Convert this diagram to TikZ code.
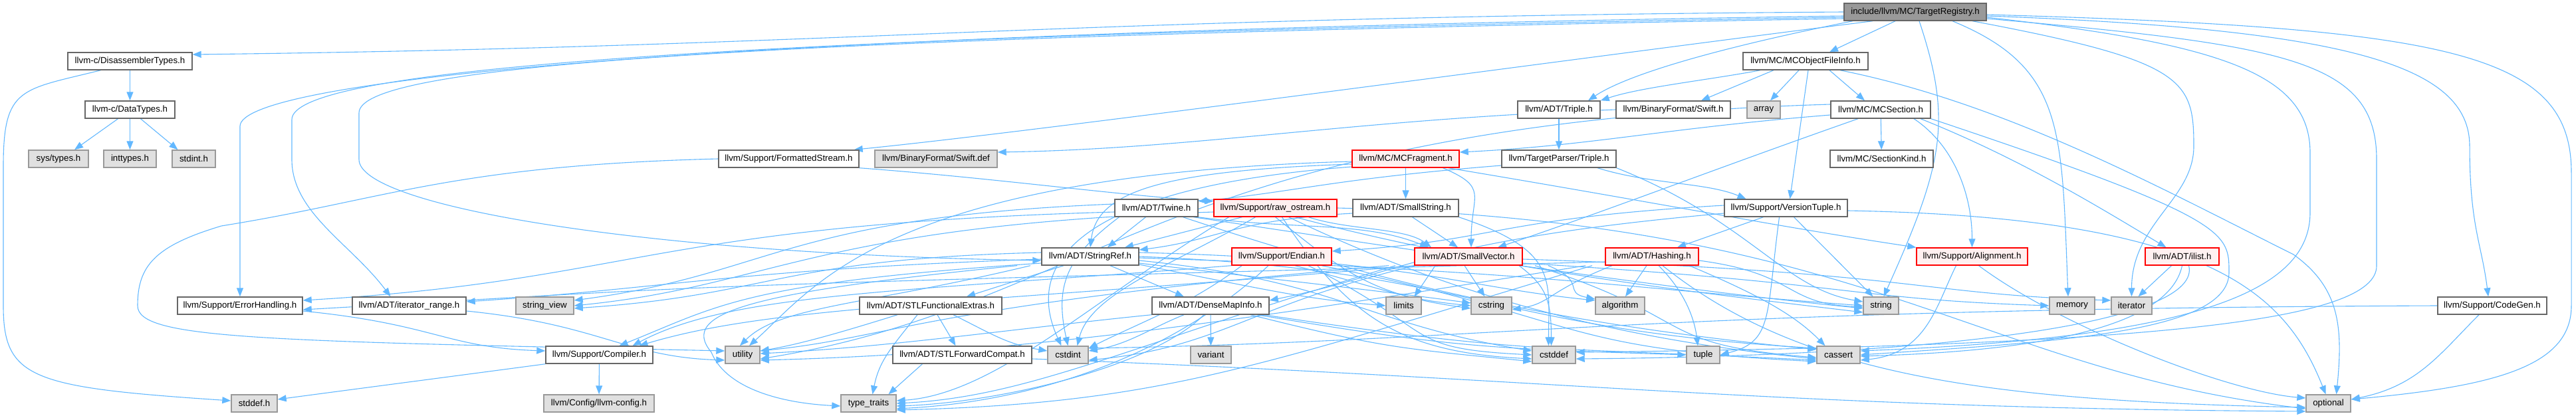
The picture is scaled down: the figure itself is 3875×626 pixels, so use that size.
\documentclass[tikz,border=0pt]{standalone}
\usepackage{fontspec}
\setmainfont{Liberation Sans}
\usetikzlibrary{arrows.meta}
\definecolor{edgec}{HTML}{63B8FF}
\definecolor{bordn}{HTML}{666666}
\definecolor{bordg}{HTML}{999999}
\definecolor{fillg}{HTML}{E0E0E0}
\definecolor{fillr}{HTML}{FFF0F0}
\definecolor{bordr}{HTML}{FF0000}
\definecolor{fillroot}{HTML}{999999}
\pgfdeclarelayer{bg}
\pgfsetlayers{bg,main}
\tikzset{
  base/.style={rectangle, inner sep=0pt, minimum height=13pt, line width=0.7pt, font=\fontsize{6.65pt}{8pt}\selectfont, text=black},
  nb/.style={base, draw=bordn, fill=white},
  gb/.style={base, draw=bordg, fill=fillg},
  rb/.style={base, draw=bordr, fill=fillr},
  rootb/.style={base, draw=bordn, fill=fillroot},
  e/.style={draw=edgec, line width=0.55pt, -{Triangle[length=6.5pt,width=5pt]}}
}
\begin{document}
\begin{tikzpicture}[x=0.5pt,y=-0.5pt]
\useasboundingbox (0,0) rectangle (3875,626);
% row 0
\node[rootb, minimum width=107pt] (root) at (2881,18) {include/llvm/MC/TargetRegistry.h};
% row 1
\node[nb, minimum width=93.5pt] (dis) at (195.5,92) {llvm-c/DisassemblerTypes.h};
\node[nb, minimum width=94pt] (mcofi) at (2716,92) {llvm/MC/MCObjectFileInfo.h};
% row 2
\node[nb, minimum width=67.5pt] (datatypes) at (195.5,165) {llvm-c/DataTypes.h};
\node[nb, minimum width=62pt] (adttriple) at (2345,165) {llvm/ADT/Triple.h};
\node[nb, minimum width=86pt] (swifth) at (2517,165) {llvm/BinaryFormat/Swift.h};
\node[gb, minimum width=25pt] (array) at (2653,165) {array};
\node[nb, minimum width=75pt] (mcsection) at (2829,165) {llvm/MC/MCSection.h};
% row 3
\node[gb, minimum width=45pt] (systypes) at (88,239) {sys/types.h};
\node[gb, minimum width=39.5pt] (inttypes) at (195.5,239) {inttypes.h};
\node[gb, minimum width=32.5pt] (stdint) at (291.5,239) {stdint.h};
\node[nb, minimum width=105.5pt] (fstream) at (1186.5,239) {llvm/Support/FormattedStream.h};
\node[gb, minimum width=92pt] (swiftdef) at (1408,239) {llvm/BinaryFormat/Swift.def};
\node[rb, minimum width=80.5pt] (mcfrag) at (2114.5,239) {llvm/MC/MCFragment.h};
\node[nb, minimum width=86pt] (tptriple) at (2345,239) {llvm/TargetParser/Triple.h};
\node[nb, minimum width=77.5pt] (sectionkind) at (2830.5,239) {llvm/MC/SectionKind.h};
% row 4
\node[nb, minimum width=62.5pt] (twine) at (1739.5,313) {llvm/ADT/Twine.h};
\node[rb, minimum width=92.5pt] (rawos) at (1918.5,313) {llvm/Support/raw\_ostream.h};
\node[nb, minimum width=79.5pt] (smallstring) at (2114.5,313) {llvm/ADT/SmallString.h};
\node[nb, minimum width=92.5pt] (versiontuple) at (2686.5,313) {llvm/Support/VersionTuple.h};
% row 5
\node[nb, minimum width=73pt] (stringref) at (1640,386) {llvm/ADT/StringRef.h};
\node[rb, minimum width=75pt] (endian) at (1928,386) {llvm/Support/Endian.h};
\node[rb, minimum width=81pt] (smallvector) at (2209,386) {llvm/ADT/SmallVector.h};
\node[rb, minimum width=70pt] (hashing) at (2485,386) {llvm/ADT/Hashing.h};
\node[rb, minimum width=83.5pt] (alignment) at (2966.5,386) {llvm/Support/Alignment.h};
\node[rb, minimum width=55.5pt] (ilist) at (3282.5,386) {llvm/ADT/ilist.h};
% row 6
\node[nb, minimum width=94pt] (errh) at (361,460) {llvm/Support/ErrorHandling.h};
\node[nb, minimum width=85.5pt] (itrange) at (615.5,460) {llvm/ADT/iterator\_range.h};
\node[gb, minimum width=43.5pt] (stringview) at (819.5,460) {string\_view};
\node[nb, minimum width=107pt] (stlfe) at (1400,460) {llvm/ADT/STLFunctionalExtras.h};
\node[nb, minimum width=88pt] (densemap) at (1821,460) {llvm/ADT/DenseMapInfo.h};
\node[gb, minimum width=26.5pt] (limits) at (2111.5,460) {limits};
\node[gb, minimum width=30.5pt] (cstring) at (2243.5,460) {cstring};
\node[gb, minimum width=37pt] (algorithm) at (2437,460) {algorithm};
\node[gb, minimum width=26.5pt] (string) at (2829.5,460) {string};
\node[gb, minimum width=34pt] (memory) at (3117,460) {memory};
\node[gb, minimum width=30.5pt] (iterator) at (3206.5,460) {iterator};
\node[nb, minimum width=82pt] (codegen) at (3749,460) {llvm/Support/CodeGen.h};
% row 7
\node[nb, minimum width=80.5pt] (compiler) at (901.5,534) {llvm/Support/Compiler.h};
\node[gb, minimum width=26pt] (utility) at (1117,534) {utility};
\node[nb, minimum width=104.5pt] (stlfc) at (1447.5,534) {llvm/ADT/STLForwardCompat.h};
\node[gb, minimum width=30.5pt] (cstdint) at (1606.5,534) {cstdint};
\node[gb, minimum width=30.5pt] (variant) at (1821.5,534) {variant};
\node[gb, minimum width=32.5pt] (cstddef) at (2337.5,534) {cstddef};
\node[gb, minimum width=25pt] (tuple) at (2562,534) {tuple};
\node[gb, minimum width=32.5pt] (cassert) at (2765.5,534) {cassert};
% row 8
\node[gb, minimum width=34.5pt] (stddef) at (382.5,607) {stddef.h};
\node[gb, minimum width=83pt] (llvmconfig) at (901,607) {llvm/Config/llvm-config.h};
\node[gb, minimum width=41.5pt] (typetraits) at (1306.5,607) {type\_traits};
\node[gb, minimum width=33.5pt] (optional) at (3502.5,607) {optional};

\begin{pgfonlayer}{bg}
% root
\draw[e] (root.west) .. controls +(-1200,8) and +(1000,-12) .. ([yshift=5pt]dis.east);
\draw[e] ([yshift=-3pt]root.west) .. controls +(-1700,25) and +(0,-70) .. (361,190) -- (errh.north);
\draw[e] ([yshift=-4pt]root.west) .. controls +(-1800,30) and +(0,-70) .. (439,180) -- (439,240) .. controls +(0,80) and +(-60,-80) .. ([xshift=-14pt]itrange.north);
\draw[e] ([yshift=-5pt]root.west) .. controls +(-1700,30) and +(0,-70) .. (540,170) -- (540,240) .. controls +(0,70) and +(-600,-10) .. ([yshift=-3pt]stringref.west);
\draw[e] ([xshift=-32pt]root.south) .. controls +(-400,50) and +(300,-30) .. ([xshift=-4pt]fstream.north east);
\draw[e] ([xshift=-47pt]root.south) .. controls +(-200,40) and +(60,-40) .. ([xshift=22pt]adttriple.north);
\draw[e] ([xshift=-15pt]root.south) -- ([xshift=18pt]mcofi.north);
\draw[e] ([xshift=3pt]root.south) .. controls +(50,150) and +(90,-200) .. ([xshift=2pt]string.north);
\draw[e] ([xshift=28pt]root.south) .. controls +(170,70) and +(-10,-250) .. ([xshift=-3pt]memory.north);
\draw[e] ([xshift=43pt]root.south) .. controls +(320,60) and +(0,-100) .. (3300,220) .. controls +(0,80) and +(0,-110) .. (iterator.north);
\draw[e] ([yshift=-3pt]root.east) .. controls +(550,20) and +(0,-120) .. (3715,220) .. controls +(0,120) and +(-10,-80) .. ([xshift=-3pt]codegen.north);
\draw[e] ([yshift=-2pt]root.east) .. controls +(700,20) and +(0,-180) .. (3868,260) -- (3868,460) .. controls +(0,90) and +(220,-20) .. ([yshift=3pt]optional.east);
\draw[e] ([yshift=-4pt]root.east) .. controls +(350,40) and +(0,-120) .. (3475,230) -- (3475,320) .. controls +(0,120) and +(500,-20) .. ([yshift=3pt]cassert.east);
\draw[e] ([yshift=-5pt]root.east) .. controls +(450,40) and +(0,-150) .. (3575,240) -- (3575,400) .. controls +(0,80) and +(900,-10) .. ([yshift=2pt]cstddef.east);
% dis
\draw[e] (dis) -- (datatypes);
\draw[e] ([xshift=-22pt]dis.south) .. controls +(-120,30) and +(0,-120) .. (5,250) -- (5,460) .. controls +(0,110) and +(-300,-20) .. ([yshift=2pt]stddef.west);
% datatypes
\draw[e] ([xshift=-9pt]datatypes.south) -- ([xshift=12pt]systypes.north);
\draw[e] (datatypes) -- (inttypes);
\draw[e] ([xshift=8pt]datatypes.south) -- ([xshift=-12pt]stdint.north);
% mcofi
\draw[e] ([xshift=-34pt]mcofi.south) .. controls +(-80,15) and +(60,-20) .. (adttriple.north east);
\draw[e] ([xshift=-24pt]mcofi.south) -- ([xshift=21pt]swifth.north);
\draw[e] ([xshift=-5pt]mcofi.south) -- ([xshift=5pt]array.north);
\draw[e] ([xshift=2pt]mcofi.south) -- ([xshift=3pt]versiontuple.north);
\draw[e] ([xshift=18pt]mcofi.south) -- ([xshift=-12pt]mcsection.north);
\draw[e] ([xshift=26pt]mcofi.south) .. controls +(250,50) and +(-200,-100) .. (3450,383) .. controls +(70,50) and +(10,-100) .. ([xshift=6pt]optional.north);
% adttriple, swifth
\draw[e] (adttriple) -- (tptriple);
\draw[e] (swifth.west) .. controls +(-400,15) and +(300,-5) .. ([yshift=5pt]swiftdef.east);
% mcsection
\draw[e] ([yshift=-4pt]mcsection.west) .. controls +(-250,20) and +(200,-10) .. ([yshift=5pt]mcfrag.east);
\draw[e] (mcsection) -- (sectionkind);
\draw[e] ([xshift=-17pt]mcsection.south) .. controls +(-200,70) and +(150,-50) .. ([xshift=22pt]smallvector.north);
\draw[e] ([xshift=25pt]mcsection.south) .. controls +(60,40) and +(0,-80) .. (alignment.north);
\draw[e] ([xshift=30pt]mcsection.south) .. controls +(150,60) and +(-100,-60) .. ([xshift=-12pt]ilist.north);
\draw[e] (mcsection.south east) .. controls +(450,150) and +(0,-60) .. (3353,410) .. controls +(0,90) and +(300,-20) .. (cassert.east);
\draw[e] ([yshift=4pt]mcsection.west) .. controls +(-1000,30) and +(500,-80) .. ([yshift=-3pt]utility.east);
% mcfrag
\draw[e] (mcfrag) -- (smallstring);
\draw[e] ([xshift=28pt]mcfrag.south) .. controls +(70,30) and +(0,-80) .. ([xshift=2pt]smallvector.north);
\draw[e] ([yshift=-4pt]mcfrag.west) .. controls +(-300,10) and +(10,-80) .. (stringref.north);
\draw[e] ([xshift=32pt]mcfrag.south) .. controls +(300,50) and +(-200,-30) .. (alignment.north west);
\draw[e] ([yshift=-6pt]mcfrag.west) .. controls +(-400,30) and +(-60,-130) .. ([xshift=-5pt]cstdint.north);
\draw[e] ([yshift=-2pt]mcfrag.west) .. controls +(-700,20) and +(100,-90) .. ([xshift=5pt]utility.north);
% tptriple
\draw[e] ([yshift=-5pt]tptriple.west) .. controls +(-250,20) and +(150,-15) .. ([yshift=5pt]twine.east);
\draw[e] ([xshift=29pt]tptriple.south) .. controls +(80,25) and +(-60,-25) .. ([xshift=-30pt]versiontuple.north);
\draw[e] (tptriple.south east) .. controls +(200,80) and +(-120,-20) .. ([yshift=3pt]string.west);
% fstream
\draw[e] (fstream.south east) .. controls +(200,15) and +(-150,-10) .. ([yshift=5pt]rawos.west);
\draw[e] (fstream.west) .. controls +(-400,10) and +(250,-40) .. (333,340) .. controls +(-100,30) and +(0,-60) .. (207,460) .. controls +(0,50) and +(-700,-15) .. ([yshift=3pt]utility.west);
% twine
\draw[e] ([xshift=-8pt]twine.south) -- ([xshift=13pt]stringref.north);
\draw[e] (twine.south east) .. controls +(150,20) and +(-100,-40) .. ([xshift=-30pt]smallvector.north);
\draw[e] ([yshift=-3pt]twine.west) .. controls +(-700,20) and +(500,-30) .. ([yshift=4pt]errh.east);
\draw[e] ([xshift=20pt]twine.south) .. controls +(300,100) and +(-400,-40) .. ([yshift=4pt]cassert.west);
\draw[e] ([xshift=-28pt]twine.south) .. controls +(-80,60) and +(-20,-90) .. (cstdint.north);
\draw[e] ([xshift=28pt]twine.south) .. controls +(400,60) and +(-300,-30) .. ([yshift=-2pt]string.west);
\draw[e] ([yshift=3pt]twine.west) .. controls +(-500,20) and +(300,-40) .. ([yshift=4pt]stringview.east);
% rawos
\draw[e] ([xshift=-25pt]rawos.south) -- ([xshift=26pt]stringref.north);
\draw[e] ([xshift=25pt]rawos.south) .. controls +(60,20) and +(-40,-30) .. ([xshift=-28pt]smallvector.north);
\draw[e] ([xshift=-15pt]rawos.south) .. controls +(-120,70) and +(20,-80) .. ([xshift=7pt]cstdint.north);
\draw[e] ([xshift=10pt]rawos.south) .. controls +(250,120) and +(-300,-30) .. ([yshift=-3pt]cassert.west);
\draw[e] ([xshift=5pt]rawos.south) .. controls +(100,150) and +(-200,-10) .. ([yshift=-3pt]cstddef.west);
\draw[e] (rawos.south) .. controls +(100,80) and +(-150,-20) .. ([yshift=-2pt]cstring.west);
\draw[e] (rawos.east) .. controls +(800,20) and +(-500,-60) .. ([yshift=-4pt]optional.west);
\draw[e] ([xshift=15pt]rawos.south) .. controls +(300,80) and +(-250,-30) .. ([yshift=-5pt]string.west);
\draw[e] ([yshift=-3pt]rawos.west) .. controls +(-600,20) and +(300,-30) .. (stringview.east);
\draw[e] ([xshift=-35pt]rawos.south) .. controls +(-200,120) and +(150,-10) .. ([yshift=2pt]typetraits.east);
% smallstring
\draw[e] ([xshift=5pt]smallstring.south) -- ([xshift=-8pt]smallvector.north);
\draw[e] ([yshift=-4pt]smallstring.west) .. controls +(-180,10) and +(120,-15) .. ([yshift=5pt]stringref.east);
\draw[e] ([xshift=40pt]smallstring.south) .. controls +(150,50) and +(0,-100) .. ([xshift=-4pt]cstddef.north);
% versiontuple
\draw[e] ([xshift=-17pt]versiontuple.south) -- ([xshift=19pt]hashing.north);
\draw[e] ([yshift=2pt]versiontuple.west) .. controls +(-350,20) and +(250,-15) .. ([yshift=4pt]endian.east);
\draw[e] ([yshift=-4pt]versiontuple.west) .. controls +(-450,40) and +(200,-40) .. ([yshift=4pt]densemap.east);
\draw[e] ([xshift=6pt]versiontuple.south) -- ([xshift=-6pt]string.north);
\draw[e] ([yshift=-2pt]versiontuple.east) .. controls +(550,10) and +(-60,-150) .. ([xshift=-2pt]optional.north);
\draw[e] ([xshift=-5pt]versiontuple.south) .. controls +(-20,150) and +(80,-20) .. (tuple.east);
% stringref
\draw[e] ([xshift=15pt]stringref.south) -- ([xshift=-20pt]densemap.north);
\draw[e] ([xshift=-20pt]stringref.south) -- ([xshift=27pt]stlfe.north);
\draw[e] ([yshift=-2pt]stringref.west) .. controls +(-450,15) and +(300,-20) .. ([yshift=3pt]itrange.east);
\draw[e] ([yshift=-5pt]stringref.west) .. controls +(-450,30) and +(150,-60) .. ([xshift=15pt]compiler.north);
\draw[e] ([yshift=3pt]stringref.east) .. controls +(400,10) and +(-200,-20) .. ([yshift=4pt]algorithm.west);
\draw[e] (stringref.east) .. controls +(500,20) and +(-500,-30) .. ([yshift=5pt]cassert.west);
\draw[e] ([yshift=-3pt]stringref.east) .. controls +(300,30) and +(-250,-40) .. ([yshift=3pt]cstddef.west);
\draw[e] ([yshift=-5pt]stringref.east) .. controls +(250,30) and +(-150,-20) .. ([yshift=2pt]cstring.west);
\draw[e] ([yshift=-6pt]stringref.east) .. controls +(200,40) and +(-120,-10) .. (limits.west);
\draw[e] ([yshift=-1pt]stringref.east) .. controls +(600,20) and +(-400,-30) .. (string.west);
\draw[e] ([yshift=3pt]stringref.west) .. controls +(-400,10) and +(300,-20) .. ([yshift=-2pt]stringview.east);
\draw[e] ([xshift=-55pt]stringref.south) .. controls +(-400,40) and +(-50,-60) .. (1070,530) .. controls +(20,50) and +(-100,-5) .. ([yshift=-2pt]typetraits.west);
\draw[e] ([xshift=-45pt]stringref.south) .. controls +(-250,60) and +(60,-60) .. ([xshift=-2pt]utility.north);
% endian
\draw[e] (endian.south west) .. controls +(-500,40) and +(150,-80) .. ([xshift=25pt]compiler.north);
\draw[e] ([xshift=30pt]endian.south) .. controls +(400,80) and +(-400,-20) .. ([yshift=-5pt]cassert.west);
\draw[e] ([xshift=20pt]endian.south) .. controls +(200,100) and +(-200,-10) .. (cstddef.west);
\draw[e] ([xshift=-30pt]endian.south) .. controls +(-80,60) and +(80,-40) .. ([yshift=5pt]cstdint.east);
\draw[e] ([xshift=10pt]endian.south) .. controls +(150,40) and +(-100,-10) .. (cstring.west);
\draw[e] ([xshift=-10pt]endian.south) .. controls +(-150,140) and +(200,-10) .. ([yshift=-4pt]typetraits.east);
% smallvector
\draw[e] (smallvector.south west) .. controls +(-700,60) and +(200,-60) .. ([xshift=30pt]compiler.north);
\draw[e] ([xshift=60pt]smallvector.south) .. controls +(60,25) and +(-50,-10) .. ([yshift=5pt]algorithm.west);
\draw[e] ([xshift=50pt]smallvector.south) .. controls +(250,80) and +(-250,-20) .. ([yshift=-2pt]cassert.west);
\draw[e] ([xshift=38pt]smallvector.south) .. controls +(40,30) and +(0,-70) .. ([xshift=-2pt]cstddef.north);
\draw[e] ([xshift=-40pt]smallvector.south) .. controls +(-250,60) and +(200,-20) .. ([yshift=-4pt]cstdint.east);
\draw[e] ([xshift=-3pt]smallvector.south) -- ([xshift=-5pt]cstring.north);
\draw[e] ([yshift=-2pt]smallvector.east) .. controls +(600,20) and +(-300,-10) .. ([yshift=4pt]iterator.west);
\draw[e] ([xshift=-25pt]smallvector.south) -- ([xshift=8pt]limits.north);
\draw[e] ([yshift=-5pt]smallvector.east) .. controls +(500,30) and +(-300,-10) .. (memory.west);
\draw[e] ([xshift=-55pt]smallvector.south) .. controls +(-400,120) and +(200,-10) .. (typetraits.east);
\draw[e] ([xshift=-60pt]smallvector.south) .. controls +(-700,60) and +(200,-20) .. ([yshift=3pt]utility.east);
% hashing
\draw[e] ([yshift=-4pt]hashing.west) .. controls +(-1500,40) and +(700,-40) .. ([yshift=-3pt]errh.east);
\draw[e] ([xshift=-4pt]hashing.south) -- ([xshift=4pt]algorithm.north);
\draw[e] ([xshift=5pt]hashing.south) .. controls +(40,40) and +(-5,-40) .. ([xshift=-4pt]tuple.north);
\draw[e] ([xshift=28pt]hashing.south) .. controls +(120,50) and +(-40,-40) .. ([xshift=-10pt]cassert.north);
\draw[e] ([xshift=8pt]hashing.south) .. controls +(200,160) and +(-500,-10) .. ([yshift=-3pt]optional.west);
\draw[e] ([yshift=-3pt]hashing.east) .. controls +(150,20) and +(-120,-5) .. ([yshift=-1pt]string.west);
\draw[e] ([xshift=-30pt]hashing.south) .. controls +(-100,40) and +(60,-10) .. ([yshift=-3pt]cstring.east);
\draw[e] ([xshift=-50pt]hashing.south) .. controls +(-500,80) and +(400,-10) .. ([yshift=-4pt]utility.east);
\draw[e] ([xshift=-45pt]hashing.south) .. controls +(-500,150) and +(400,-10) .. ([yshift=-5pt]typetraits.east);
% alignment
\draw[e] ([xshift=-12pt]alignment.south) .. controls +(-30,60) and +(100,-10) .. ([yshift=-4pt]cassert.east);
\draw[e] ([xshift=5pt]alignment.south) .. controls +(120,90) and +(-120,-10) .. ([yshift=4pt]optional.west);
% ilist
\draw[e] ([xshift=-8pt]ilist.south) -- ([xshift=5pt]iterator.north);
\draw[e] (ilist.south) .. controls +(-15,70) and +(350,-10) .. ([yshift=-1pt]cassert.east);
\draw[e] ([xshift=5pt]ilist.south) .. controls +(20,80) and +(600,-5) .. ([yshift=-3pt]cstddef.east);
% errh, itrange
\draw[e] ([yshift=-4pt]errh.east) .. controls +(200,20) and +(-150,-5) .. ([yshift=3pt]compiler.west);
\draw[e] ([yshift=-4pt]itrange.east) .. controls +(200,20) and +(-150,-5) .. ([yshift=-4pt]utility.west);
% stlfe
\draw[e] ([xshift=5pt]stlfe.south) -- ([xshift=-5pt]stlfc.north);
\draw[e] ([xshift=17pt]stlfe.south) .. controls +(60,30) and +(-60,-10) .. ([yshift=3pt]cstdint.west);
\draw[e] ([xshift=-10pt]stlfe.south) .. controls +(-40,50) and +(10,-50) .. ([xshift=3pt]typetraits.north);
\draw[e] ([xshift=-25pt]stlfe.south) .. controls +(-80,25) and +(60,-10) .. ([yshift=3pt]utility.east);
% stlfc
\draw[e] ([yshift=-3pt]stlfc.east) .. controls +(800,30) and +(-800,-5) .. ([yshift=-6pt]optional.west);
\draw[e] ([xshift=-30pt]stlfc.south) -- ([xshift=15pt]typetraits.north);
% densemap
\draw[e] ([xshift=-20pt]densemap.south) .. controls +(-50,20) and +(60,-10) .. ([yshift=3pt]cstdint.east);
\draw[e] (densemap) -- (variant);
\draw[e] ([xshift=40pt]densemap.south) .. controls +(400,60) and +(-400,-20) .. ([yshift=-4pt]cassert.west);
\draw[e] ([xshift=30pt]densemap.south) .. controls +(200,50) and +(-200,-20) .. ([yshift=-5pt]cstddef.west);
\draw[e] ([xshift=35pt]densemap.south) .. controls +(300,50) and +(-300,-10) .. (tuple.west);
\draw[e] ([xshift=-5pt]densemap.south) .. controls +(-80,80) and +(150,-5) .. ([yshift=-2pt]typetraits.east);
\draw[e] (densemap.south west) .. controls +(-200,20) and +(200,-10) .. ([yshift=1pt]utility.east);
% compiler
\draw[e] (compiler) -- (llvmconfig);
\draw[e] (compiler.south west) .. controls +(-150,20) and +(150,-20) .. ([yshift=3pt]stddef.east);
% codegen
\draw[e] ([xshift=-10pt]codegen.south) .. controls +(-60,60) and +(100,-20) .. ([yshift=3pt]optional.east);
\draw[e] (codegen.west) .. controls +(-1200,5) and +(600,-10) .. ([yshift=5pt]cstdint.east);
\end{pgfonlayer}
\end{tikzpicture}
\end{document}
